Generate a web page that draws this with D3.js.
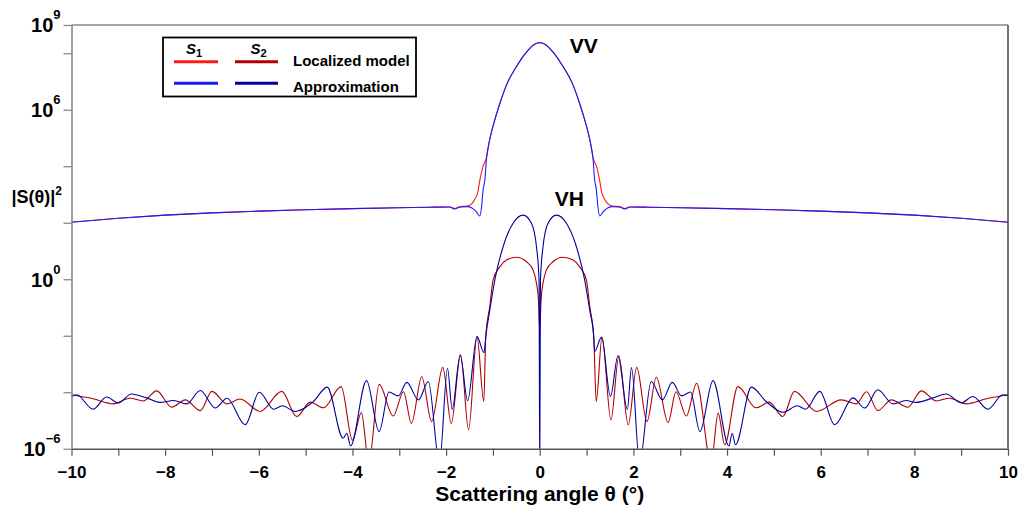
<!DOCTYPE html>
<html>
<head>
<meta charset="utf-8">
<script src="https://cdn.jsdelivr.net/npm/d3@7/dist/d3.min.js"></script>
<style>
  html, body { margin: 0; padding: 0; background: #fff; }
  svg { display: block; font-family: "Liberation Sans", Arial, sans-serif; }
</style>
</head>
<body>
<div id="chart"></div>
<script>
// values; intensities kept as log10(|S|^2)

var xTickValues = [-10, -9, -8, -7, -6, -5, -4, -3, -2, -1, 0, 1, 2, 3, 4, 5, 6, 7, 8, 9, 10];
var xLabelValues = [-10, -8, -6, -4, -2, 0, 2, 4, 6, 8, 10];
var yTickExps = [9, 8, 6, 4, 2, 0, -2, -4, -6];
var yLabelExps = [9, 6, 0, -6];

// VV, S1 - localized model
var vvLocalAngle = [-10, -9, -8, -7, -6, -5, -4, -3, -2.35, -1.92, -1.82, -1.7, -1.55, -1.45, -1.38, -1.32, -1.28, -1.22, -1.14, -1.07, -0.96, -0.85, -0.71, -0.5, -0.28, -0.1, 0,
  0.1, 0.28, 0.5, 0.71, 0.85, 0.96, 1.07, 1.14, 1.22, 1.28, 1.32, 1.38, 1.45, 1.55, 1.7, 1.82, 1.92, 2.35, 3, 4, 5, 6, 7, 8, 9, 10];
var vvLocalLog = [2.02, 2.16, 2.27, 2.35, 2.41, 2.46, 2.5, 2.53, 2.55, 2.56, 2.5, 2.57, 2.59, 2.68, 2.85, 3.1, 3.5, 3.95, 4.3, 4.93, 5.64, 6.23, 6.88, 7.52, 8.05, 8.33, 8.37,
  8.33, 8.05, 7.52, 6.88, 6.23, 5.64, 4.93, 4.3, 3.95, 3.5, 3.1, 2.85, 2.68, 2.59, 2.57, 2.5, 2.56, 2.55, 2.53, 2.5, 2.46, 2.41, 2.35, 2.27, 2.16, 2.02];

// VV, S1 - approximation
var vvApproxAngle = [-10, -9, -8, -7, -6, -5, -4, -3, -2.35, -1.92, -1.82, -1.7, -1.55, -1.45, -1.36, -1.28, -1.24, -1.21, -1.17, -1.14, -1.07, -0.96, -0.85, -0.71, -0.5, -0.28, -0.1, 0,
  0.1, 0.28, 0.5, 0.71, 0.85, 0.96, 1.07, 1.14, 1.17, 1.21, 1.24, 1.28, 1.36, 1.45, 1.55, 1.7, 1.82, 1.92, 2.35, 3, 4, 5, 6, 7, 8, 9, 10];
var vvApproxLog = [2.02, 2.16, 2.27, 2.35, 2.41, 2.46, 2.5, 2.53, 2.55, 2.56, 2.49, 2.56, 2.57, 2.52, 2.4, 2.24, 2.6, 3.16, 3.55, 4.22, 4.93, 5.64, 6.23, 6.88, 7.52, 8.05, 8.33, 8.37,
  8.33, 8.05, 7.52, 6.88, 6.23, 5.64, 4.93, 4.22, 3.55, 3.16, 2.6, 2.24, 2.4, 2.52, 2.57, 2.56, 2.49, 2.56, 2.55, 2.53, 2.5, 2.46, 2.41, 2.35, 2.27, 2.16, 2.02];

// VH, S2 - localized model
var vhLocalAngle = [-10, -9.54, -9.11, -8.75, -8.47, -8.18, -7.86, -7.57, -7.25, -7.0, -6.68, -6.4, -5.97, -5.51, -5.19, -4.9, -4.62, -4.24, -4.0, -3.81, -3.65, -3.43, -3.13, -2.91, -2.74, -2.52, -2.31, -2.07, -1.89, -1.69, -1.52, -1.34, -1.195, -1.153, -1.067, -0.997, -0.854, -0.711, -0.497, -0.284, -0.143, -0.07, -0.028, 0,
  0.028, 0.07, 0.143, 0.284, 0.497, 0.711, 0.854, 0.997, 1.067, 1.153, 1.205, 1.33, 1.52, 1.69, 1.89, 2.07, 2.29, 2.49, 2.74, 2.91, 3.13, 3.35, 3.66, 3.81, 3.95, 4.23, 4.62, 4.9, 5.19, 5.44, 5.91, 6.44, 6.76, 6.98, 7.22, 7.51, 7.86, 8.15, 8.47, 8.75, 9.11, 9.54, 10];
var vhLocalLog = [-4.09, -4.23, -4.41, -4.21, -4.31, -3.95, -4.53, -4.27, -4.65, -3.97, -4.41, -4.24, -4.68, -3.97, -4.86, -4.35, -4.55, -3.8, -5.7, -4.72, -6.5, -3.72, -4.84, -3.98, -5.1, -3.45, -5.04, -3.12, -5.1, -2.68, -5.33, -2.03, -4.33, -2.03, -0.95, -0.03, 0.44, 0.68, 0.78, 0.62, 0.33, -0.14, -0.73, -1.8,
  -0.73, -0.14, 0.33, 0.62, 0.78, 0.68, 0.44, -0.03, -0.95, -2.03, -4.33, -2.05, -4.98, -2.71, -5.16, -3.12, -5.04, -3.47, -5.07, -3.98, -4.84, -3.68, -6.5, -4.74, -5.86, -3.8, -4.55, -4.35, -4.86, -3.97, -4.68, -4.27, -4.41, -3.98, -4.65, -4.27, -4.53, -3.95, -4.31, -4.21, -4.41, -4.23, -4.09];

// VH, S2 - approximation
var vhApproxAngle = [-10, -9.89, -9.54, -9.25, -9.0, -8.72, -8.4, -8.11, -7.82, -7.54, -7.25, -6.93, -6.68, -6.29, -5.99, -5.68, -5.5, -5.22, -4.83, -4.54, -4.2, -4.12, -4.04, -3.7, -3.43, -3.22, -3.02, -2.84, -2.59, -2.38, -2.14, -1.97, -1.87, -1.7, -1.54, -1.34, -1.19, -1.153, -1.067, -0.96, -0.783, -0.57, -0.356, -0.177, -0.07, -0.015, 0,
  0.015, 0.07, 0.177, 0.356, 0.57, 0.783, 0.96, 1.067, 1.153, 1.17, 1.32, 1.51, 1.67, 1.87, 1.96, 2.13, 2.38, 2.62, 2.83, 3.03, 3.22, 3.42, 3.7, 4.04, 4.11, 4.18, 4.52, 4.83, 5.2, 5.5, 5.68, 5.98, 6.3, 6.69, 6.94, 7.22, 7.54, 7.82, 8.04, 8.4, 8.68, 9.0, 9.25, 9.57, 9.89, 10];
var vhApproxLog = [-4.15, -4.09, -4.6, -4.17, -4.38, -4.06, -4.2, -4.36, -4.29, -4.41, -3.94, -4.56, -4.21, -5.15, -4.0, -4.6, -4.48, -4.68, -4.32, -3.82, -5.63, -5.45, -5.9, -3.59, -5.39, -3.99, -4.13, -3.65, -4.27, -3.62, -6.5, -3.15, -4.6, -2.68, -4.3, -2.03, -2.6, -2.03, -1.09, -0.03, 1.15, 1.98, 2.27, 1.98, 1.15, -0.03, -7,
  -0.03, 1.15, 1.98, 2.27, 1.98, 1.15, -0.03, -1.09, -2.03, -2.56, -2.05, -4.15, -2.71, -4.6, -3.13, -6.5, -3.62, -4.27, -3.65, -4.13, -3.99, -5.39, -3.59, -5.9, -5.45, -5.86, -3.82, -4.32, -4.71, -4.48, -4.6, -3.97, -5.15, -4.2, -4.56, -3.91, -4.41, -4.29, -4.36, -4.2, -4.06, -4.38, -4.15, -4.6, -4.09, -4.12];

var colLocalS1 = "#ff1a1a", colLocalS2 = "#b00000", colApproxS1 = "#1a1aff", colApproxS2 = "#0000a0";

var W = 1021, H = 508;
var margin = { top: 25, right: 13, bottom: 59.25, left: 71.5 };
var width = W - margin.left - margin.right;
var height = H - margin.top - margin.bottom;

var svg = d3.select("#chart").append("svg").attr("width", W).attr("height", H);
var g = svg.append("g").attr("transform", "translate(" + margin.left + "," + margin.top + ")");

var x = d3.scaleLinear().domain([-10, 10]).range([0, width]);
var y = d3.scaleLog().domain([1e-6, 1e9]).range([height, 0]);

g.append("clipPath").attr("id", "plotclip")
  .append("rect").attr("x", 0).attr("y", 0).attr("width", width).attr("height", height);

function pts(angles, logs) {
  return angles.map(function (a, i) { return [a, Math.pow(10, logs[i])]; });
}

var line = d3.line()
  .x(function (d) { return x(d[0]); })
  .y(function (d) { return y(d[1]); })
  .curve(d3.curveMonotoneX);

var curves = [
  { data: pts(vhLocalAngle, vhLocalLog), color: colLocalS2 },
  { data: pts(vhApproxAngle, vhApproxLog), color: colApproxS2 },
  { data: pts(vvLocalAngle, vvLocalLog), color: colLocalS1 },
  { data: pts(vvApproxAngle, vvApproxLog), color: colApproxS1 }
];

g.append("g").attr("clip-path", "url(#plotclip)")
  .selectAll("path").data(curves).join("path")
  .attr("d", function (d) { return line(d.data); })
  .attr("fill", "none")
  .attr("stroke", function (d) { return d.color; })
  .attr("stroke-width", 1.1);

// frame top / right
g.append("line").attr("x1", 0).attr("x2", width).attr("y1", 0).attr("y2", 0)
  .attr("stroke", "#8a8a8a").attr("stroke-width", 1.5);
g.append("line").attr("x1", width).attr("x2", width).attr("y1", 0).attr("y2", height)
  .attr("stroke", "#444").attr("stroke-width", 1.5);

// x axis
var xAxis = g.append("g").attr("transform", "translate(0," + height + ")")
  .call(d3.axisBottom(x).tickValues(xTickValues).tickSize(7).tickSizeOuter(0).tickPadding(10)
    .tickFormat(function (d) { return xLabelValues.indexOf(d) >= 0 ? d3.format("d")(d) : ""; }));
xAxis.select(".domain").attr("stroke", "#555").attr("stroke-width", 1.5);
xAxis.selectAll(".tick line").attr("stroke", "#555").attr("stroke-width", 1.2);
xAxis.selectAll("text").attr("fill", "#000").style("font-size", "17px").style("font-weight", "bold");

// y axis
var yAxis = g.append("g")
  .call(d3.axisLeft(y).tickValues(yTickExps.map(function (e) { return Math.pow(10, e); }))
    .tickSize(8).tickSizeOuter(0).tickFormat(""));
yAxis.select(".domain").attr("stroke", "#808080").attr("stroke-width", 1.5);
yAxis.selectAll(".tick line").attr("stroke", "#808080").attr("stroke-width", 1.2);

g.selectAll(".ylab").data(yLabelExps).join("text")
  .attr("class", "ylab")
  .attr("x", -11)
  .attr("y", function (d) { return y(Math.pow(10, d)) + 7.3; })
  .attr("text-anchor", "end")
  .style("font-size", "20px").style("font-weight", "bold")
  .each(function (d) {
    var t = d3.select(this);
    t.append("tspan").text("10");
    t.append("tspan").attr("dy", -13).style("font-size", "13px")
      .text(d < 0 ? "\u2212" + (-d) : d);
  });

// axis titles
var yTitle = svg.append("text")
  .attr("x", 62).attr("y", 203)
  .attr("text-anchor", "end")
  .style("font-size", "18px").style("font-weight", "bold");
yTitle.append("tspan").text("|S(\u03b8)|");
yTitle.append("tspan").attr("dy", -8).style("font-size", "12px").text("2");

svg.append("text")
  .attr("x", margin.left + width / 2).attr("y", 501)
  .attr("text-anchor", "middle")
  .style("font-size", "21px").style("font-weight", "bold")
  .text("Scattering angle \u03b8 (\u00b0)");

// curve labels
g.append("text").attr("x", x(0.64)).attr("y", y(1e8))
  .style("font-size", "21px").style("font-weight", "bold").text("VV");
g.append("text").attr("x", x(0.32)).attr("y", y(Math.pow(10, 2.6)))
  .style("font-size", "21px").style("font-weight", "bold").text("VH");

// legend
var lg = svg.append("g");
lg.append("rect").attr("x", 163).attr("y", 37.5).attr("width", 253).attr("height", 59)
  .attr("fill", "#fff").attr("stroke", "#000").attr("stroke-width", 1.8);

[["1", 186], ["2", 250.5]].forEach(function (h) {
  var t = lg.append("text").attr("x", h[1]).attr("y", 54)
    .style("font-size", "15px").style("font-weight", "bold");
  t.append("tspan").style("font-style", "italic").text("S");
  t.append("tspan").attr("dy", 3).style("font-size", "11px").text(h[0]);
});

var legendRows = [
  { label: "Localized model", y: 61.7, c1: colLocalS1, c2: colLocalS2, ty: 65.5 },
  { label: "Approximation", y: 83.3, c1: colApproxS1, c2: colApproxS2, ty: 91.5 }
];
legendRows.forEach(function (r) {
  lg.append("line").attr("x1", 174).attr("x2", 218).attr("y1", r.y).attr("y2", r.y)
    .attr("stroke", r.c1).attr("stroke-width", 3);
  lg.append("line").attr("x1", 235).attr("x2", 278).attr("y1", r.y).attr("y2", r.y)
    .attr("stroke", r.c2).attr("stroke-width", 3);
  lg.append("text").attr("x", 293).attr("y", r.ty)
    .style("font-size", "15px").style("font-weight", "bold").text(r.label);
});
</script>
</body>
</html>
